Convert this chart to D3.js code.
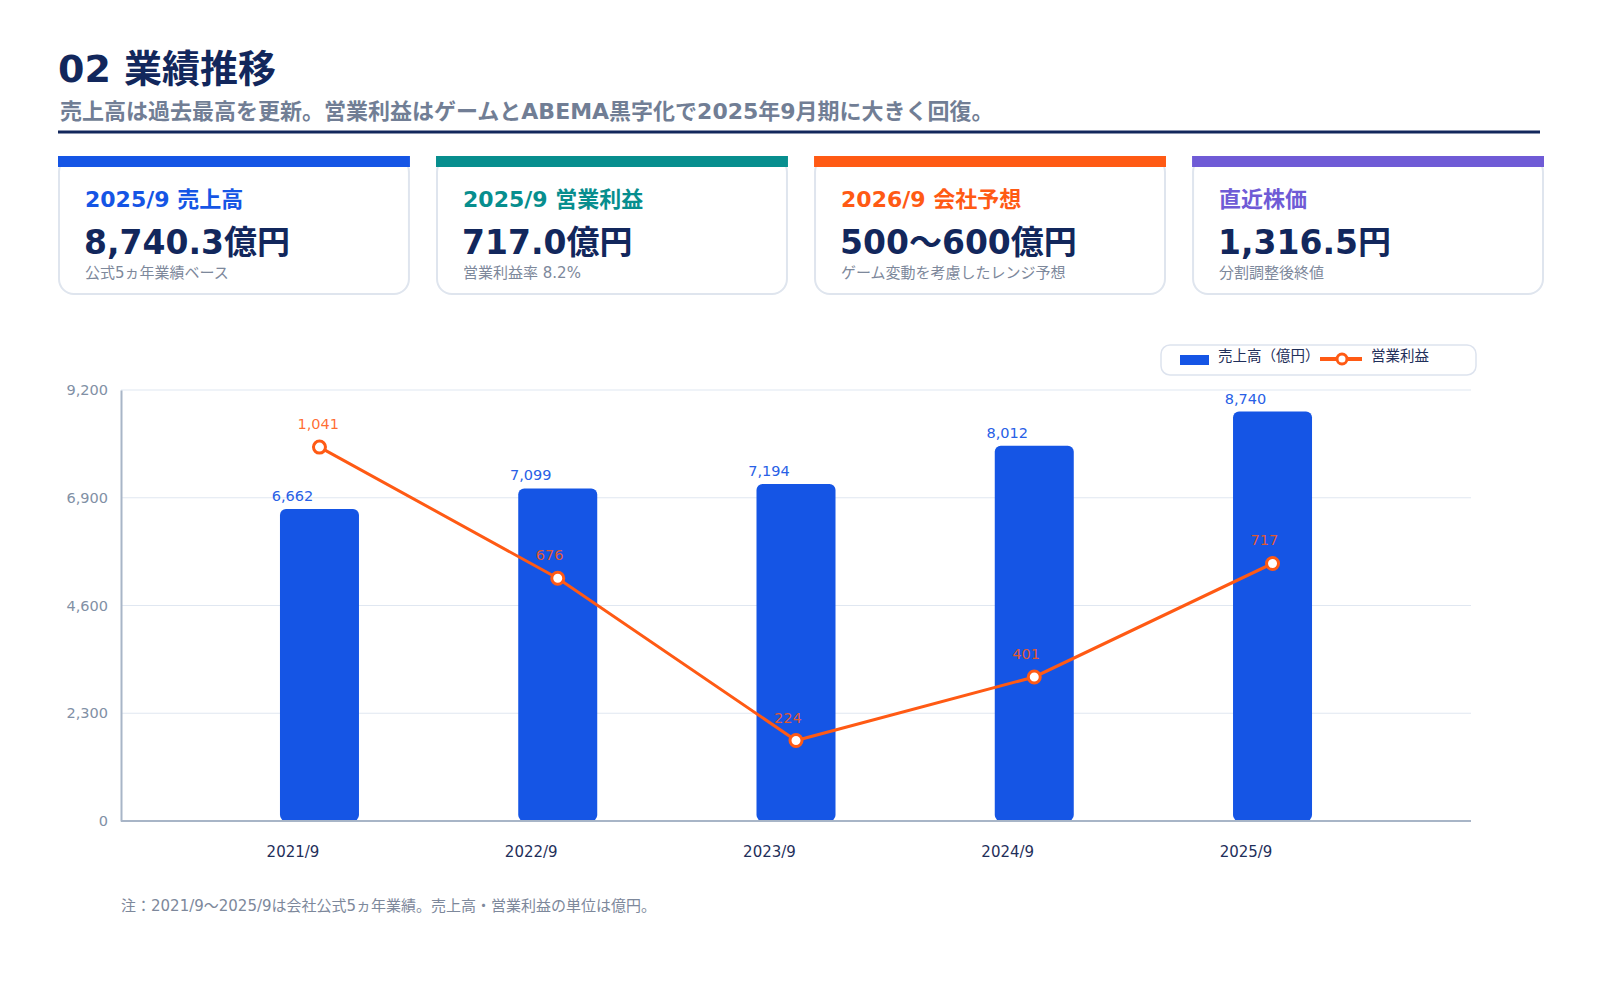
<!DOCTYPE html>
<html lang="ja">
<head>
<meta charset="utf-8">
<script src="https://cdn.jsdelivr.net/npm/d3@7"></script>
<style>
  html, body { margin: 0; padding: 0; background: #ffffff; }
  svg { display: block; font-family: "DejaVu Sans", "Noto Sans CJK JP", sans-serif; }
</style>
</head>
<body>
<svg id="chart" width="1600" height="1000"></svg>
<script>
// ---- data ----
const categories = ["2021/9", "2022/9", "2023/9", "2024/9", "2025/9"];
const revenue = [6662, 7099, 7194, 8012, 8740];
const opProfit = [1041, 676, 224, 401, 717];
const yTicks = [0, 2300, 4600, 6900, 9200];
const yMax = 9200;
const y2Max = 1200;
const seriesNames = ["売上高（億円）", "営業利益"];

const titleText = "02 業績推移";
const subtitleText = "売上高は過去最高を更新。営業利益はゲームとABEMA黒字化で2025年9月期に大きく回復。";
const cardLabels = ["2025/9 売上高", "2025/9 営業利益", "2026/9 会社予想", "直近株価"];
const cardValues = ["8,740.3億円", "717.0億円", "500〜600億円", "1,316.5円"];
const cardNotes = ["公式5ヵ年業績ベース", "営業利益率 8.2%", "ゲーム変動を考慮したレンジ予想", "分割調整後終値"];
const footnote = "注：2021/9〜2025/9は会社公式5ヵ年業績。売上高・営業利益の単位は億円。";

// ---- style ----
const NAVY = "#12275c";
const BLUE = "#1555e5";
const ORANGE = "#ff5a14";
const cardColors = ["#1555e5", "#078e8e", "#ff5a14", "#6f5bd6"];

const svg = d3.select("#chart");

// ---- header ----
svg.append("text").attr("x", 58).attr("y", 82)
  .attr("font-size", 38).attr("font-weight", 700).attr("fill", NAVY).text(titleText);
svg.append("text").attr("x", 60).attr("y", 119)
  .attr("font-size", 22).attr("font-weight", 700).attr("fill", "#717e95").text(subtitleText);
svg.append("rect").attr("x", 58).attr("y", 130.5).attr("width", 1482).attr("height", 3).attr("fill", NAVY);

// ---- cards ----
const cardScale = d3.scaleBand().domain(d3.range(cardLabels.length)).range([58, 1544]).paddingInner(0.069);
const cards = svg.selectAll("g.card").data(cardLabels).join("g").attr("class", "card")
  .attr("transform", (d, i) => `translate(${cardScale(i)},156)`);
cards.append("rect").attr("x", 1).attr("y", 1).attr("width", cardScale.bandwidth() - 2).attr("height", 137)
  .attr("rx", 15).attr("fill", "#fff").attr("stroke", "#dfe5ee").attr("stroke-width", 2);
cards.append("rect").attr("x", 0).attr("y", 0).attr("width", cardScale.bandwidth()).attr("height", 11)
  .attr("fill", (d, i) => cardColors[i]);
cards.append("text").attr("x", 27).attr("y", 51).attr("font-size", 22).attr("font-weight", 700)
  .attr("fill", (d, i) => cardColors[i]).text(d => d);
cards.append("text").attr("x", 26).attr("y", 98).attr("font-size", 33).attr("font-weight", 700)
  .attr("fill", NAVY).text((d, i) => cardValues[i]);
cards.append("text").attr("x", 27).attr("y", 122).attr("font-size", 15)
  .attr("fill", "#7d889b").text((d, i) => cardNotes[i]);

// ---- chart ----
const L = 121, R = 1471, T = 390, B = 821;
const x = d3.scalePoint().domain(categories).range([L, R]).padding(0.833);
const y = d3.scaleLinear().domain([0, yMax]).range([B, T]);
const y2 = d3.scaleLinear().domain([0, y2Max]).range([B, T]);
const barW = 79;

// grid
svg.append("g").selectAll("line").data(yTicks.filter(t => t > 0)).join("line")
  .attr("x1", L).attr("x2", R).attr("y1", d => y(d)).attr("y2", d => y(d))
  .attr("stroke", "#e0e7f1").attr("stroke-width", 1.2);

// y axis
const yAxis = svg.append("g").attr("transform", `translate(${L},0)`)
  .call(d3.axisLeft(y).tickValues(yTicks).tickSize(0).tickPadding(13).tickFormat(d3.format(",")));
yAxis.select(".domain").attr("stroke", "#a8b5c7").attr("stroke-width", 2);
yAxis.selectAll("text").attr("font-size", 14.5).attr("fill", "#8190a5")
  .attr("font-family", "DejaVu Sans, Noto Sans CJK JP, sans-serif");

// bars
svg.append("g").selectAll("rect").data(revenue).join("rect")
  .attr("x", (d, i) => x(categories[i]) - barW / 2).attr("width", barW)
  .attr("y", d => y(d)).attr("height", d => y(0) - y(d))
  .attr("rx", 6).attr("fill", BLUE);

// x axis
const xAxis = svg.append("g").attr("transform", `translate(0,${B})`)
  .call(d3.axisBottom(x).tickSize(0).tickPadding(25));
xAxis.select(".domain").attr("stroke", "#a8b5c7").attr("stroke-width", 2).attr("d", `M${L},0H${R}`);
xAxis.selectAll("text").attr("font-size", 15).attr("fill", "#1f2f5a")
  .attr("font-family", "DejaVu Sans, Noto Sans CJK JP, sans-serif")
  .attr("transform", "translate(-27,0)");

// bar value labels
svg.append("g").selectAll("text").data(revenue).join("text")
  .attr("x", (d, i) => x(categories[i]) - 27).attr("y", d => y(d) - 8)
  .attr("text-anchor", "middle").attr("font-size", 14.5).attr("fill", "#2860e6")
  .text(d => d3.format(",")(d));

// line
const pts = opProfit.map((v, i) => [x(categories[i]), y2(v)]);
svg.append("path").datum(pts).attr("d", d3.line())
  .attr("fill", "none").attr("stroke", ORANGE).attr("stroke-width", 3);
svg.append("g").selectAll("circle").data(opProfit).join("circle")
  .attr("cx", (d, i) => x(categories[i])).attr("cy", d => y2(d)).attr("r", 6)
  .attr("fill", "#fff").attr("stroke", ORANGE).attr("stroke-width", 3);
svg.append("g").selectAll("text").data(opProfit).join("text")
  .attr("x", (d, i) => x(categories[i]) - 22).attr("y", d => y2(d) - 18)
  .attr("font-size", 14.5).attr("fill", ORANGE).attr("fill-opacity", 0.88)
  .text(d => d3.format(",")(d));

// legend
const lg = svg.append("g");
lg.append("rect").attr("x", 1161).attr("y", 345).attr("width", 315).attr("height", 30).attr("rx", 9)
  .attr("fill", "#fff").attr("stroke", "#dde3ee").attr("stroke-width", 1.5);
lg.append("rect").attr("x", 1180).attr("y", 355).attr("width", 29).attr("height", 10).attr("fill", BLUE);
lg.append("text").attr("x", 1218).attr("y", 361).attr("font-size", 14.5).attr("fill", "#1f2f5a").text(seriesNames[0]);
lg.append("line").attr("x1", 1320).attr("x2", 1362).attr("y1", 359).attr("y2", 359)
  .attr("stroke", ORANGE).attr("stroke-width", 4);
lg.append("circle").attr("cx", 1342).attr("cy", 359).attr("r", 5)
  .attr("fill", "#fff").attr("stroke", ORANGE).attr("stroke-width", 3);
lg.append("text").attr("x", 1371).attr("y", 361).attr("font-size", 14.5).attr("fill", "#1f2f5a").text(seriesNames[1]);

// footnote
svg.append("text").attr("x", 121).attr("y", 911).attr("font-size", 15).attr("fill", "#7d889b").text(footnote);
</script>
</body>
</html>
